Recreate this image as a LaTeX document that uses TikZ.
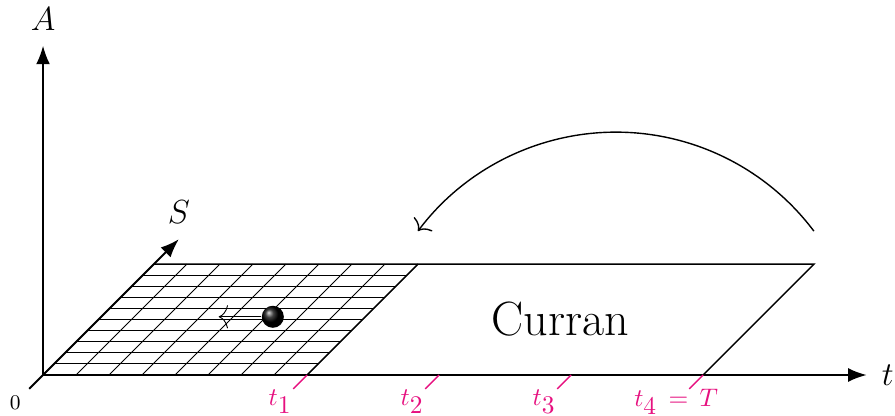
\documentclass[tikz,border=0pt]{standalone}
\usetikzlibrary{arrows.meta}
\usepackage{xcolor,amsmath}
\definecolor{tickpink}{HTML}{E6107F}
\definecolor{inkblack}{HTML}{000000}

\begin{document}
\begin{tikzpicture}[x={(1cm,0cm)}, y={(0.42cm,0.42cm)}, z={(0cm,1cm)},
    axisline/.style={thick, draw=inkblack, -{Latex[length=8pt,width=6pt]}},
    barbarrow/.style={-{To[length=4pt,width=10pt]}},
    ticklabel/.style={text=tickpink, font=\fontsize{10.5}{12}\selectfont}]

  \useasboundingbox (-0.652cm,-0.621cm) rectangle (12.909cm,5.682cm);

  % Finite difference grid on the (t,S) plane
  \foreach \k in {0,...,10}
    \draw[thin] (0,{0.4*\k},0) -- (4,{0.4*\k},0);
  \foreach \k in {0,...,8}
    \draw[thin] ({0.5*\k},0,0) -- ({0.5*\k},4,0);

  % Curran region
  \draw[semithick] (0,4,0) -- (10,4,0) -- (10,0,0);
  \draw[semithick] (4,0,0) -- (4,4,0);
  \node[font=\huge] (curran) at (7,2,0) {Curran};

  % Axes
  \coordinate (O) at (0,0,0);
  \coordinate (Atip) at (0,0,4.99);
  \coordinate (ttip) at (12.48,0,0);
  \coordinate (Sbase) at (0,-0.5,0);
  \coordinate (Stip) at (0,4.9,0);
  \draw[axisline] (O) -- (Atip);
  \draw[axisline] (O) -- (ttip);
  \draw[axisline] (Sbase) -- (Stip);
  \node[font=\fontsize{13.7}{16}\selectfont] (Alabel) at (0,0,5.39) {$A$};
  \node[font=\fontsize{13.7}{16}\selectfont] (Slabel) at (0,4.9,0.41) {$S$};
  \node[font=\fontsize{13.7}{16}\selectfont] (tlabel) at (12.8,0,0) {$t$};
  \node[font=\small] (zero) at (0,-1,0) {$0$};

  % Time steps
  \foreach \n/\tt/\lab in {1/4/{t_{\textstyle 1}}, 2/6/{t_{\textstyle 2}},
                           3/8/{t_{\textstyle 3}}, 4/10/{t_{\textstyle 4}\,=\,T}} {
    \draw[semithick, tickpink] (\tt,0,0) -- (\tt,-0.5,0);
    \node[ticklabel] (tick\n) at (\tt,-0.97,0) {$\lab$};
  }

  % Particle moving backwards in time
  \coordinate (balltip) at (1.78,2.1,0);
  \node[circle, inner sep=0pt, minimum size=0.334cm, ball color=black] (ball) at (2.6,2.1,0) {};
  \draw[thin, barbarrow] (ball.west) -- (balltip);

  % Jump back from maturity
  \coordinate (arcstart) at (10,4,0.5);
  \draw[semithick, barbarrow] (arcstart) arc[start angle=36.87, end angle=143.13, radius=3.75cm];

\end{tikzpicture}
\end{document}
